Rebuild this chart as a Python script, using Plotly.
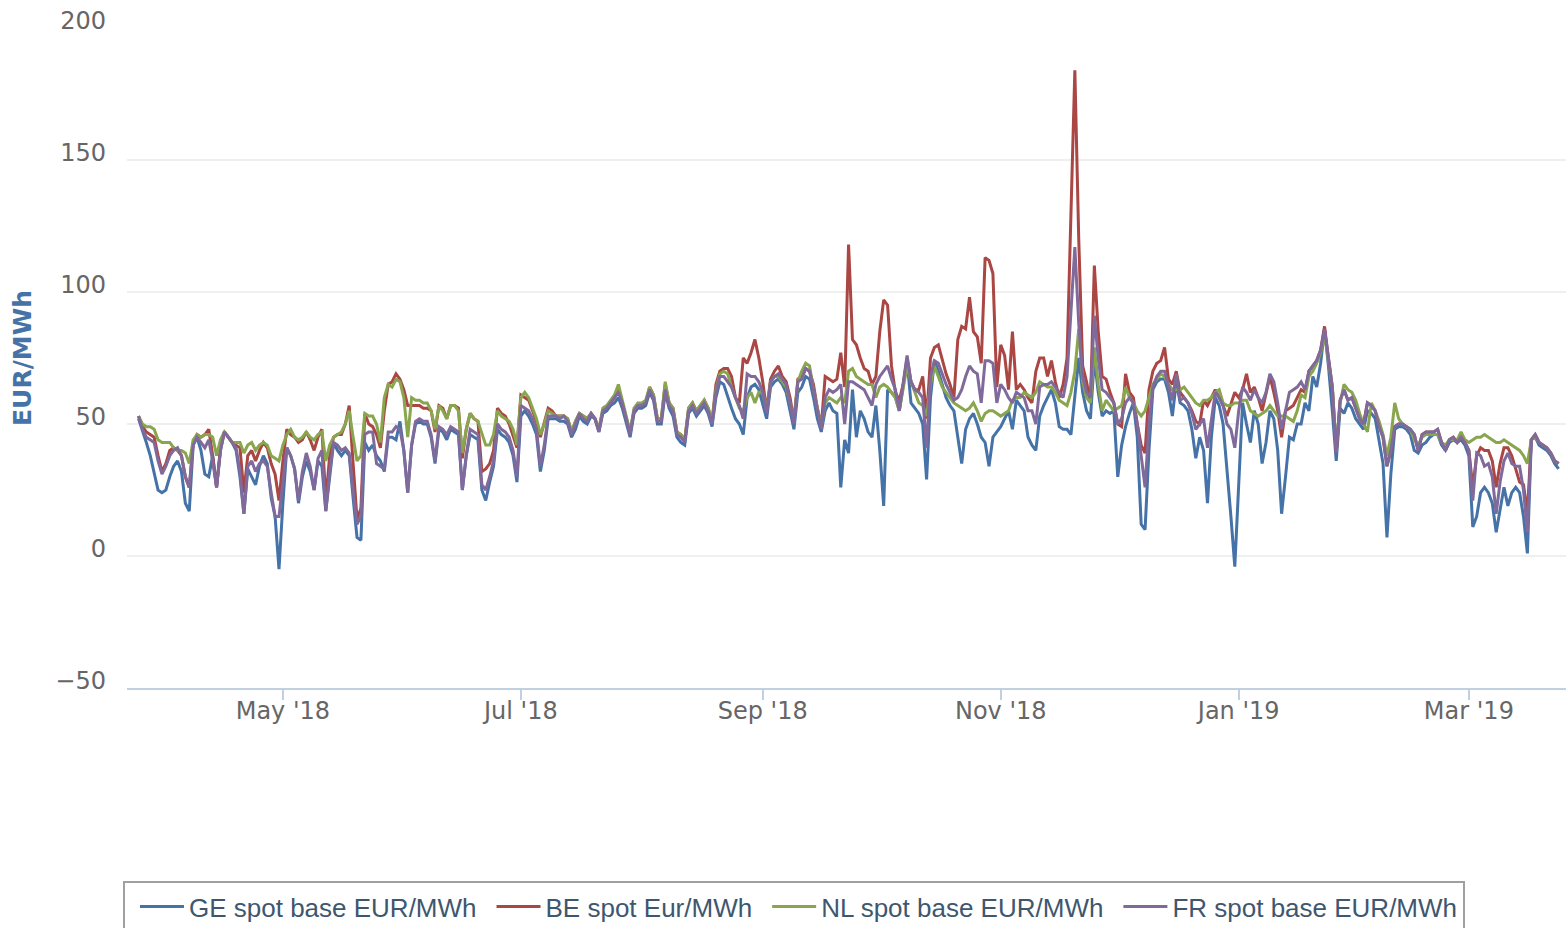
import plotly.graph_objects as go
import pandas as pd

start_date = "2018-03-25"

ge = [
    52, 47, 43, 38, 31, 25, 24, 25, 30, 34,
    36, 32, 20, 17, 42, 45, 40, 31, 30, 38,
    26, 40, 47, 45, 43, 40, 30, 16, 33, 30,
    27, 34, 38, 35, 22, 15, -5, 20, 41, 38,
    33, 20, 30, 36, 32, 25, 36, 34, 17, 30,
    43, 40, 38, 40, 38, 22, 7, 6, 43,
    40, 42, 38, 36, 32, 45, 45, 44, 51, 40,
    24, 42, 50, 51, 50, 50, 45, 35, 48, 47,
    44, 48, 47, 46, 25, 38, 46, 45, 44, 25,
    21, 28, 34, 48, 46, 45, 43, 38, 28, 53,
    55, 53, 50, 46, 32, 40, 52, 52, 52, 51,
    51, 50, 45, 48, 53, 51, 50, 53, 52, 47,
    54, 55, 57, 58, 60, 56, 50, 45, 54, 56,
    56, 57, 62, 59, 50, 50, 62, 56, 53, 45,
    43, 42, 54, 56, 53, 55, 57, 54, 49, 60,
    66, 65, 60, 56, 52, 50, 46, 60, 64, 65,
    63, 58, 52, 64, 66, 67, 65, 62, 55, 48,
    62, 64, 68, 67, 60, 52, 47, 55, 58, 55,
    54,
    26, 44, 39, 63, 45, 55, 52, 47, 45, 57,
    40, 19, 63, 62, 60, 55, 65, 74, 58, 56,
    54, 50, 29, 60, 74, 70, 65, 60, 57, 55,
    45, 35, 48, 52, 54, 50, 45, 43, 34, 45,
    47, 49, 52, 55, 48, 59, 57, 55, 45, 42,
    40, 53, 57, 60, 63, 58, 49, 48, 48,
    46, 60, 75, 62, 55, 52, 75, 62, 53, 55,
    54, 55, 30, 42, 49, 54, 58, 45, 12, 10,
    40, 63, 66, 67, 67, 62, 53, 66, 58, 57,
    55, 48, 37, 45, 40, 20, 45, 60, 57, 50,
    34, 15, -4, 30, 58, 50, 43, 55, 50, 35,
    43, 55, 52, 40, 16, 30, 45, 44, 50, 50,
    58,
    55, 68, 64, 73, 86, 72, 55, 36, 56, 54,
    58, 56, 52, 50, 48, 55, 54, 52, 44, 35,
    7, 31, 48, 49, 49, 48, 46, 40, 39, 42,
    43, 45, 46, 46, 42, 40, 43, 44, 43, 44,
    42, 38, 11, 15, 24, 26, 24, 20, 9, 18,
    26, 19, 24, 26, 24, 15, 1, 44, 45, 42,
    41, 40, 38, 35, 33,
]

be = [
    53, 49, 47, 46, 45, 38, 32, 35, 40, 41,
    40, 38, 30, 26, 43, 46, 45, 46, 48, 38,
    26, 41, 47, 45, 43, 42, 41, 24, 38, 40,
    36, 40, 43, 41, 35, 31, 21, 36, 48, 46,
    45, 43, 44, 47, 44, 40, 45, 48, 21, 38,
    45, 46, 46, 50, 57, 35, 14, 18, 54,
    50, 49, 46, 41, 55, 65, 66, 69, 67, 63,
    57, 57, 57, 57, 56, 56, 55, 47, 57, 56,
    52, 57, 57, 56, 37, 48, 54, 52, 51, 32,
    33, 35, 40, 56, 54, 53, 50, 45, 41, 61,
    60, 59, 55, 51, 45, 50, 56, 55, 53, 53,
    53, 52, 47, 51, 54, 53, 52, 54, 52, 48,
    55, 56, 58, 60, 63, 58, 52, 47, 55, 57,
    57, 58, 64, 61, 52, 52, 65, 58, 56, 47,
    46, 44, 56, 58, 55, 57, 59, 56, 51, 65,
    70, 71, 71, 68, 60, 58, 75, 73, 77, 82,
    75, 66, 55, 67, 70, 72, 68, 66, 60, 51,
    67, 68, 71, 70, 65, 56, 49, 68, 67, 66,
    67,
    77, 64, 118, 82, 80, 75, 71, 70, 65, 68,
    85, 97, 95, 72, 62, 59, 65, 75, 66, 63,
    63, 68, 52, 75, 79, 80, 75, 69, 65, 60,
    82, 87, 86, 98, 85, 83, 73, 113, 112, 107,
    64, 80, 76, 63, 85, 63, 65, 63, 60, 58,
    70, 75, 75, 68, 74, 66, 60, 65, 75,
    130, 184, 120, 72, 66, 58, 110, 85, 68, 67,
    62, 58, 50, 49, 69, 62, 60, 50, 42, 39,
    63, 70, 73, 74, 79, 67, 65, 70, 62, 60,
    58, 55, 51, 50, 59, 57, 60, 63, 60, 57,
    53, 58, 62, 60, 63, 69, 62, 64, 60, 55,
    62, 68, 62, 55, 45, 55, 56, 57, 60, 63,
    62,
    70, 72, 74, 78, 87, 75, 64, 39, 59, 63,
    59, 60, 56, 52, 50, 58, 57, 55, 49, 45,
    34, 40, 49, 50, 50, 49, 48, 46, 40, 46,
    47, 47, 47, 48, 43, 40, 44, 45, 43, 45,
    43, 40, 26, 38, 41, 40, 40, 36, 26, 35,
    41, 41, 38, 33, 28, 27, 16, 44, 46, 43,
    42, 41, 39, 36, 35,
]

nl = [
    53, 50, 49, 49, 48, 44, 43, 43, 43, 41,
    40, 40, 39, 35, 44, 46, 45, 46, 46, 45,
    38, 44, 47, 45, 43, 43, 43, 39, 42, 43,
    40, 42, 43, 42, 38, 37, 36, 42, 46, 48,
    45, 44, 45, 47, 45, 44, 46, 47, 36, 42,
    45, 46, 47, 50, 55, 45, 36, 38, 54,
    53, 53, 50, 43, 60, 65, 64, 67, 66, 60,
    45, 60, 59, 59, 58, 58, 55, 48, 57, 55,
    52, 57, 57, 55, 39, 48, 54, 52, 51, 46,
    42, 42, 46, 55, 53, 52, 51, 48, 42, 60,
    62, 60, 56, 52, 46, 50, 55, 54, 53, 53,
    53, 52, 47, 51, 54, 53, 52, 54, 52, 48,
    56, 57, 59, 61, 65, 59, 53, 47, 56, 58,
    58, 59, 64, 61, 52, 52, 66, 58, 56, 47,
    46, 44, 56, 58, 55, 57, 59, 56, 51, 63,
    69, 70, 69, 64, 60, 56, 55, 60, 62, 58,
    62, 62, 55, 66, 68, 68, 66, 64, 58, 51,
    66, 70, 73, 72, 63, 56, 49, 58, 60, 59,
    58,
    60, 58, 70, 71, 68, 67, 66, 65, 65, 60,
    64, 65, 64, 62, 60, 55, 64, 72, 66, 62,
    58, 57, 53, 65, 72, 68, 64, 62, 60, 58,
    57, 56, 55, 56, 58, 55, 51, 54, 55, 55,
    54, 53, 54, 55, 59, 60, 60, 62, 61, 60,
    62, 66, 65, 64, 64, 62, 59, 58, 57,
    62, 70, 86, 66, 60, 58, 79, 65, 55, 59,
    57, 55, 56, 57, 64, 60, 58, 55, 53, 55,
    60, 65, 67, 69, 68, 65, 63, 63, 63, 64,
    62, 60, 58, 57, 59, 59, 60, 62, 63, 58,
    57, 57, 58, 58, 59, 59, 55, 54, 53, 54,
    55, 57, 55, 53, 53, 53, 52, 51, 55, 61,
    60,
    68, 70, 73, 77, 84, 74, 64, 41, 58, 65,
    63, 62, 59, 54, 50, 47, 58, 55, 51, 46,
    38, 45, 58, 52, 50, 49, 48, 44, 42, 45,
    46, 46, 46, 46, 43, 42, 44, 44, 44, 47,
    44, 43, 44, 45, 45, 46, 45, 44, 43, 43,
    44, 43, 42, 41, 40, 38, 35, 44, 45, 43,
    42, 41, 39, 36, 35,
]

fr = [
    53, 48, 45, 44, 43, 36, 31, 34, 38, 40,
    41, 38, 30, 26, 42, 45, 43, 41, 44, 36,
    26, 40, 47, 45, 43, 41, 32, 16, 34, 36,
    32, 35, 36, 34, 24, 15, 15, 28, 41, 38,
    33, 21, 32, 39, 34, 25, 37, 40, 17, 32,
    43, 42, 40, 41, 39, 25, 12, 15, 46,
    47, 47, 35, 34, 33, 47, 47, 49, 48, 40,
    24, 42, 51, 52, 51, 51, 46, 36, 49, 48,
    46, 49, 48, 47, 25, 38, 48, 47, 46, 27,
    25, 30, 36, 50, 48, 47, 45, 40, 30, 57,
    56, 55, 52, 48, 34, 42, 53, 53, 53, 52,
    53, 51, 46, 50, 54, 52, 51, 54, 52, 47,
    55, 56, 58, 60, 62, 58, 52, 46, 55, 57,
    57, 58, 63, 60, 51, 51, 63, 57, 55, 46,
    45, 43, 55, 57, 54, 56, 58, 55, 50, 62,
    68, 68, 66, 64, 60, 57, 52, 69, 68, 68,
    66, 62, 54, 66, 68, 69, 67, 65, 58, 50,
    66, 67, 71, 70, 63, 55, 48, 60, 63, 62,
    63,
    65, 50, 66, 66, 65, 64, 63, 60, 57, 65,
    68, 70, 72, 67, 63, 55, 65, 76, 66, 63,
    62, 60, 41, 68, 74, 73, 69, 65, 62, 59,
    60, 63, 68, 72, 70, 69, 58, 74, 74, 73,
    58, 65, 63, 60, 58, 62, 61, 60, 55, 55,
    50, 64, 65, 65, 66, 64, 62, 60, 68,
    95, 117, 88, 68, 62, 60, 91, 75, 63, 62,
    60, 58, 50, 52, 58, 60, 58, 50, 38, 26,
    50, 64, 68, 70, 70, 64, 59, 69, 59, 60,
    58, 54, 48, 50, 52, 41, 52, 62, 60, 57,
    50, 48, 41, 55, 64, 62, 59, 63, 60, 58,
    62, 69, 66, 58, 48, 55, 62, 63, 64, 66,
    63,
    70, 72, 74, 78, 86, 75, 64, 39, 59, 63,
    59, 60, 56, 52, 50, 58, 57, 55, 49, 45,
    34, 40, 49, 50, 50, 49, 48, 46, 40, 46,
    47, 47, 47, 48, 43, 40, 44, 45, 43, 45,
    43, 40, 21, 39, 38, 34, 35, 30, 16, 28,
    36, 39, 35, 34, 34, 25, 9, 44, 46, 43,
    42, 41, 39, 36, 35,
]

series_names = ["GE spot base EUR/MWh", "BE spot Eur/MWh",
                "NL spot base EUR/MWh", "FR spot base EUR/MWh"]
series_colors = ["#4572A7", "#AA4643", "#89A54E", "#80699B"]

tick_dates = ["2018-05-01", "2018-07-01", "2018-09-01",
              "2018-11-01", "2019-01-01", "2019-03-01"]
tick_labels = ["May '18", "Jul '18", "Sep '18", "Nov '18", "Jan '19", "Mar '19"]
y_ticks = [-50, 0, 50, 100, 150, 200]

fig = go.Figure()
for vals, name, color in zip([ge, be, nl, fr], series_names, series_colors):
    dates = pd.date_range(start_date, periods=len(vals), freq="D")
    fig.add_trace(go.Scatter(
        x=dates, y=vals, mode="lines", name=name,
        line=dict(color=color, width=3),
    ))

fig.update_layout(
    width=1566, height=928,
    margin=dict(l=127, r=0, t=28, b=240, autoexpand=False),
    paper_bgcolor="white", plot_bgcolor="white",
    showlegend=True,
    legend=dict(
        orientation="h", x=-0.0028, xanchor="left",
        y=-0.2924, yanchor="top",
        bordercolor="#a0a0a0", borderwidth=2, bgcolor="white",
        font=dict(family="Liberation Sans, Arial, sans-serif", size=26, color="#3E576F"),
        itemwidth=44, indentation=10,
    ),
)

fig.update_xaxes(
    type="date", automargin=False,
    range=["2018-03-22 01:00", "2019-03-25 21:30"],
    tickmode="array", tickvals=tick_dates, ticktext=tick_labels,
    ticks="outside", ticklen=10, tickwidth=1.5, tickcolor="#C0D0E0",
    ticklabelstandoff=-10,
    showline=True, linecolor="#C0D0E0", linewidth=2,
    showgrid=False, zeroline=False,
    tickfont=dict(family="DejaVu Sans", size=24, color="#666666"),
)

fig.update_yaxes(
    range=[-50, 200], automargin=False,
    tickmode="array", tickvals=y_ticks,
    showgrid=True, gridcolor="#efefef", gridwidth=2,
    zeroline=False, showline=False,
    ticklabelstandoff=20, ticklabelshift=-7,
    tickfont=dict(family="DejaVu Sans", size=24, color="#666666"),
    title=dict(text="EUR/MWh", standoff=16,
               font=dict(family="DejaVu Sans", size=25, color="#4572A7", weight="bold")),
)

fig.write_html(
    "out.html",
    config={"displayModeBar": False},
    post_script="document.body.style.margin='0';document.body.style.overflow='hidden';",
)
